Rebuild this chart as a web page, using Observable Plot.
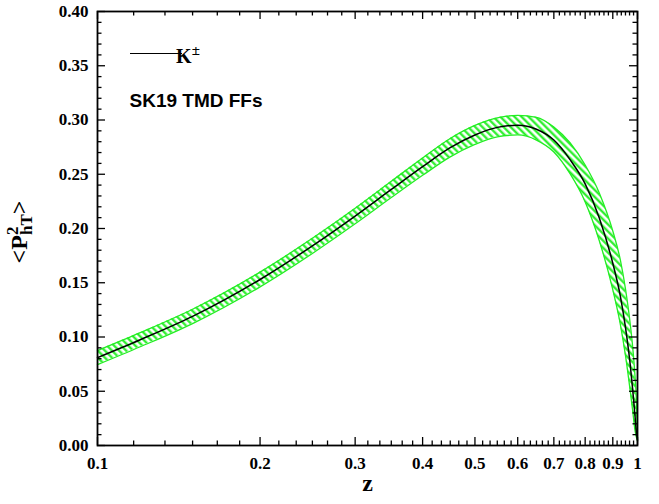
<!DOCTYPE html>
<html><head><meta charset="utf-8">
<script src="https://cdn.jsdelivr.net/npm/d3@7"></script>
<script src="https://cdn.jsdelivr.net/npm/@observablehq/plot@0.6"></script>
<style>body{margin:0;background:#fff}</style>
</head><body><div id="chart"></div>
<script>
// ---- data ----
const zValues      = [0.1, 0.12, 0.15, 0.2, 0.25, 0.3, 0.35, 0.4, 0.45, 0.5, 0.55, 0.6, 0.65, 0.7, 0.75, 0.8, 0.85, 0.9, 0.93, 0.95, 0.97, 0.98, 0.99, 0.995, 1.0];
const centerValues = [0.081, 0.0975, 0.119, 0.153, 0.184, 0.2115, 0.236, 0.257, 0.2745, 0.2862, 0.2932, 0.2952, 0.2915, 0.2815, 0.2635, 0.2412, 0.2095, 0.1680, 0.1370, 0.1088, 0.0733, 0.0508, 0.0258, 0.0126, 0.005];
const lowerValues  = [0.0745, 0.0910, 0.1124, 0.1462, 0.1770, 0.2043, 0.2285, 0.2490, 0.2660, 0.2775, 0.2845, 0.2862, 0.2815, 0.2705, 0.2505, 0.2245, 0.1885, 0.1436, 0.1110, 0.0830, 0.0493, 0.0314, 0.0132, 0.0080, 0.004];
const upperValues  = [0.0875, 0.1040, 0.1256, 0.1598, 0.1910, 0.2187, 0.2435, 0.2650, 0.2830, 0.2950, 0.3020, 0.3042, 0.3025, 0.2935, 0.2790, 0.2585, 0.2325, 0.1977, 0.1704, 0.1443, 0.1110, 0.0900, 0.0622, 0.0436, 0.006];

const xTickValues = [0.1, 0.2, 0.3, 0.4, 0.5, 0.6, 0.7, 0.8, 0.9, 1];
const xTickLabels = ["0.1", "0.2", "0.3", "0.4", "0.5", "0.6", "0.7", "0.8", "0.9", "1"];
const yTickValues = [0, 0.05, 0.1, 0.15, 0.2, 0.25, 0.3, 0.35, 0.4];
const yTickLabels = ["0.00", "0.05", "0.10", "0.15", "0.20", "0.25", "0.30", "0.35", "0.40"];
const seriesName = "K";
const seriesSup = "\u00B1";
const annotation = "SK19 TMD FFs";
const xLabel = "z";

// ---- layout / style ----
const W = 659, H = 504, mL = 97, mR = 22, mT = 11, mB = 59;
const fw = W - mL - mR, fh = H - mT - mB;
const majorLen = 8, minorLen = 4.5;
const green = "#22ee22";
const serif = "Liberation Serif, Times New Roman, serif";
const sans = "Liberation Sans, Arial, sans-serif";

const rows = zValues.map((z, i) => ({z, c: centerValues[i], lo: lowerValues[i], hi: upperValues[i]}));

// minor ticks (axis decoration): 5 per x interval, every 0.01 on y
const xMinor = [];
for (let k = 0; k < xTickValues.length - 1; k++) {
  const a = xTickValues[k], b = xTickValues[k + 1];
  for (let j = 1; j < 6; j++) xMinor.push(a + (b - a) * j / 6);
}
const yMinor = [];
for (let i = 1; i < 40; i++) if (i % 5 !== 0) yMinor.push(i / 100);

const tickStyle = {stroke: "black", strokeWidth: 1.3};

const chart = Plot.plot({
  width: W, height: H,
  marginLeft: mL, marginRight: mR, marginTop: mT, marginBottom: mB,
  x: {type: "log", domain: [0.1, 1]},
  y: {domain: [0, 0.4]},
  axis: null,
  style: {background: "white"},
  marks: [
    Plot.areaY(rows, {x: "z", y1: "lo", y2: "hi", fill: "url(#hatch)", curve: "monotone-x"}),
    Plot.line(rows, {x: "z", y: "hi", stroke: green, strokeWidth: 1.3, curve: "monotone-x"}),
    Plot.line(rows, {x: "z", y: "lo", stroke: green, strokeWidth: 1.3, curve: "monotone-x"}),
    Plot.line(rows, {x: "z", y: "c", stroke: "black", strokeWidth: 1.5, curve: "monotone-x"}),
    // inward ticks on four sides
    Plot.tickY(yTickValues, {y: d => d, insetRight: fw - majorLen, ...tickStyle}),
    Plot.tickY(yTickValues, {y: d => d, insetLeft: fw - majorLen, ...tickStyle}),
    Plot.tickY(yMinor, {y: d => d, insetRight: fw - minorLen, ...tickStyle}),
    Plot.tickY(yMinor, {y: d => d, insetLeft: fw - minorLen, ...tickStyle}),
    Plot.tickX(xTickValues, {x: d => d, insetTop: fh - majorLen, ...tickStyle}),
    Plot.tickX(xTickValues, {x: d => d, insetBottom: fh - majorLen, ...tickStyle}),
    Plot.tickX(xMinor, {x: d => d, insetTop: fh - minorLen, ...tickStyle}),
    Plot.tickX(xMinor, {x: d => d, insetBottom: fh - minorLen, ...tickStyle}),
    Plot.frame({stroke: "black", strokeWidth: 1.8}),
    Plot.axisX({ticks: xTickValues, tickFormat: d => xTickLabels[xTickValues.indexOf(d)], tickSize: 0, tickPadding: 11,
      fontSize: 17, fontWeight: "bold", fontFamily: serif, fill: "black", label: null}),
    Plot.axisY({ticks: yTickValues, tickFormat: d => yTickLabels[yTickValues.indexOf(d)], tickSize: 0, tickPadding: 9,
      fontSize: 17, fontWeight: "bold", fontFamily: serif, fill: "black", label: null}),
    Plot.text([xLabel], {text: d => d, frameAnchor: "bottom", dy: 45, fontSize: 24, fontWeight: "bold", fontFamily: serif, fill: "black"}),
    Plot.text([annotation], {text: d => d, frameAnchor: "top-left", textAnchor: "start", dx: 32, dy: 82,
      fontSize: 19, fontWeight: "bold", fontFamily: sans, fill: "black"})
  ]
});

document.getElementById("chart").appendChild(chart);
const svg = d3.select(chart.tagName.toLowerCase() === "svg" ? chart : chart.querySelector("svg"));

// hatch pattern for the uncertainty band
const P = 5;
const defs = svg.insert("defs", ":first-child");
const pat = defs.append("pattern").attr("id", "hatch").attr("patternUnits", "userSpaceOnUse")
  .attr("width", P).attr("height", P).attr("patternTransform", "rotate(-45)");
pat.append("rect").attr("width", P).attr("height", P).attr("fill", "white");
pat.append("line").attr("x1", 1.3).attr("y1", -1).attr("x2", 1.3).attr("y2", P + 1).attr("stroke", green).attr("stroke-width", 2.2);

// legend
const lg = svg.append("g");
lg.append("line").attr("x1", 130).attr("x2", 182).attr("y1", 53.5).attr("y2", 53.5).attr("stroke", "black").attr("stroke-width", 1.2);
const kt = lg.append("text").attr("x", 188).attr("y", 63).attr("font-family", serif).attr("font-weight", "bold").attr("font-size", 20).attr("fill", "black");
kt.append("tspan").text(seriesName);
kt.append("tspan").attr("dy", -8).attr("font-size", 15).text(seriesSup);

// y axis label <P^2_hT>
const yl = svg.append("text").attr("transform", "translate(27,232) rotate(-90)").attr("text-anchor", "middle")
  .attr("font-family", serif).attr("font-weight", "bold").attr("font-size", 24).attr("fill", "black");
yl.append("tspan").text("<P");
yl.append("tspan").attr("dy", -9).attr("font-size", 17).text("2");
yl.append("tspan").attr("dx", -8.5).attr("dy", 14).attr("font-size", 17).text("hT");
yl.append("tspan").attr("dy", -5).text(">");
</script>
</body></html>
